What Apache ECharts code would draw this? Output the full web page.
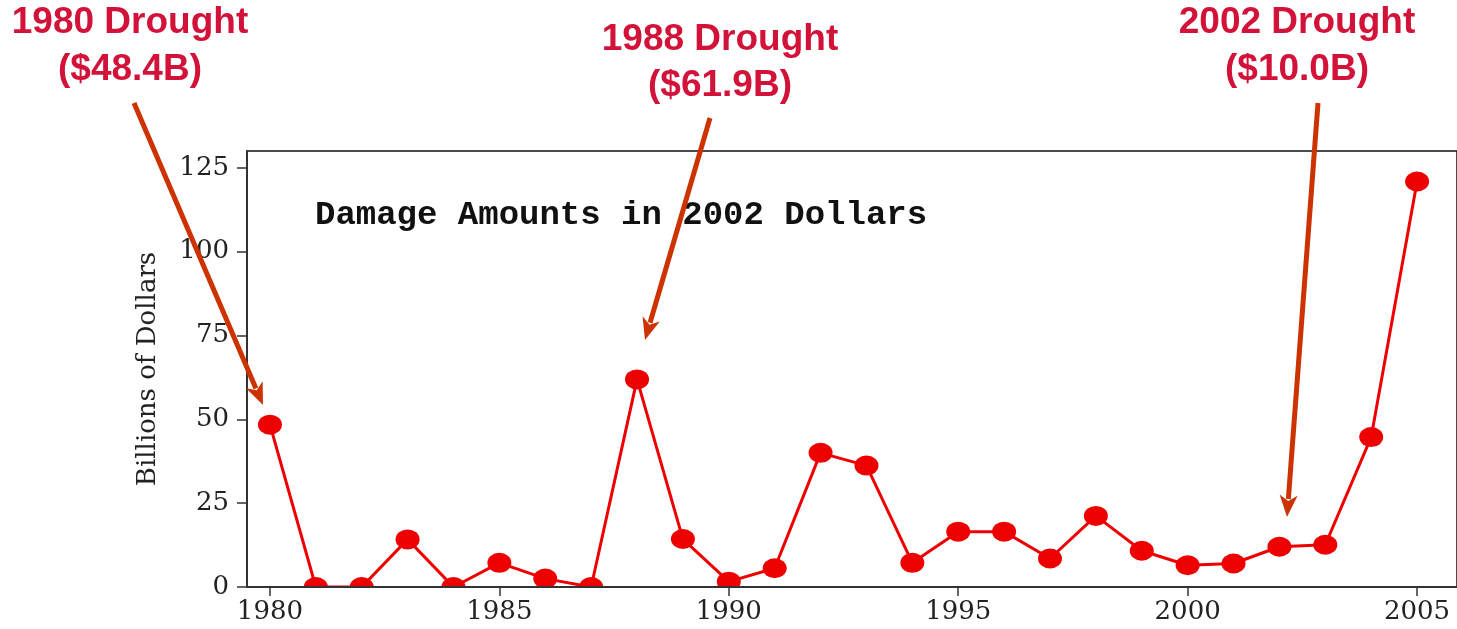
<!DOCTYPE html>
<html>
<head>
<meta charset="utf-8">
<style>
  html, body { margin: 0; padding: 0; background: #fff; }
  #chart { width: 1457px; height: 629px; }
</style>
<script src="https://cdn.jsdelivr.net/npm/echarts@6/dist/echarts.min.js"></script>
</head>
<body>
<div id="chart"></div>
<script>
const years = [1980, 1981, 1982, 1983, 1984, 1985, 1986, 1987, 1988, 1989, 1990, 1991, 1992,
    1993, 1994, 1995, 1996, 1997, 1998, 1999, 2000, 2001, 2002, 2003, 2004, 2005];
const damage = [48.4, 0, 0, 14.2, 0, 7.2, 2.5, 0, 61.9, 14.3, 1.6, 5.6, 40.0,
    36.2, 7.2, 16.5, 16.5, 8.5, 21.2, 10.8, 6.5, 7.0, 12.0, 12.6, 44.7, 120.9];
const xTicks = [1980, 1985, 1990, 1995, 2000, 2005];
const yTicks = [0, 25, 50, 75, 100, 125];
const notes = [
    { line1: '1980 Drought', line2: '($48.4B)', cx: 130, y1: 23, y2: 70, from: [134, 103], to: [263, 405] },
    { line1: '1988 Drought', line2: '($61.9B)', cx: 720, y1: 40, y2: 86, from: [710, 118], to: [645, 340] },
    { line1: '2002 Drought', line2: '($10.0B)', cx: 1297, y1: 23, y2: 70, from: [1318, 103], to: [1287, 517] }
];

const chart = echarts.init(document.getElementById('chart'));

const serif = 'DejaVu Serif';
const annRed = '#d3123a';
const arrowColor = '#cc3300';

function arrow(from, to) {
    const dx = to[0] - from[0];
    const dy = to[1] - from[1];
    const len = Math.sqrt(dx * dx + dy * dy);
    const ux = dx / len, uy = dy / len;
    const headLen = 22, headW = 9;
    const bx = to[0] - ux * headLen, by = to[1] - uy * headLen;
    const px = -uy * headW, py = ux * headW;
    return [
        {
            type: 'line', z: 20,
            shape: { x1: from[0], y1: from[1], x2: bx + ux * 4, y2: by + uy * 4 },
            style: { stroke: arrowColor, lineWidth: 5 }
        },
        {
            type: 'polygon', z: 20,
            shape: { points: [[to[0], to[1]], [bx + px, by + py], [bx + ux * 6, by + uy * 6], [bx - px, by - py]] },
            style: { fill: arrowColor }
        }
    ];
}

const graphics = [
    // hides the lower half of the markers that sit on the x axis
    { type: 'rect', z: 5, shape: { x: 0, y: 588, width: 1457, height: 41 }, style: { fill: '#fff' } }
];
notes.forEach(n => {
    graphics.push({
        type: 'text', z: 20, x: n.cx, y: n.y1,
        style: { text: n.line1, fill: annRed, font: 'bold 37px "Liberation Sans"', align: 'center', verticalAlign: 'middle' }
    });
    graphics.push({
        type: 'text', z: 20, x: n.cx, y: n.y2,
        style: { text: n.line2, fill: annRed, font: 'bold 37px "Liberation Sans"', align: 'center', verticalAlign: 'middle' }
    });
    graphics.push(...arrow(n.from, n.to));
});

const option = {
    animation: false,
    backgroundColor: '#fff',
    title: {
        text: 'Damage Amounts in 2002 Dollars',
        left: 310,
        top: 193,
        textStyle: { fontFamily: 'Liberation Mono', fontWeight: 'bold', fontSize: 34, color: '#111' }
    },
    grid: {
        left: 247, top: 151, right: -3, bottom: 42,
        show: true, borderColor: '#111', borderWidth: 1.5, backgroundColor: 'transparent'
    },
    xAxis: {
        type: 'value',
        min: 1979.5,
        max: 2005.87,
        z: 10,
        splitLine: { show: false },
        axisLine: { lineStyle: { color: '#333', width: 2 } },
        axisTick: { length: 9, lineStyle: { color: '#333', width: 1.5 }, customValues: xTicks },
        axisLabel: {
            customValues: xTicks, margin: 12,
            formatter: v => String(v),
            fontFamily: serif, fontSize: 26, color: '#222'
        }
    },
    yAxis: {
        type: 'value',
        min: 0,
        max: 130,
        z: 10,
        name: 'Billions of Dollars',
        nameLocation: 'middle',
        nameGap: 86,
        nameTextStyle: { fontFamily: serif, fontSize: 26, color: '#222' },
        splitLine: { show: false },
        axisLine: { show: true, lineStyle: { color: '#333', width: 2 } },
        axisTick: { show: true, length: 10, lineStyle: { color: '#333', width: 1.5 }, customValues: yTicks },
        axisLabel: {
            customValues: yTicks, margin: 18,
            fontFamily: serif, fontSize: 26, color: '#222'
        }
    },
    series: [{
        type: 'line',
        z: 2,
        data: years.map((y, i) => [y, damage[i]]),
        symbol: 'circle',
        symbolSize: [24, 20],
        clip: false,
        lineStyle: { color: '#ee0000', width: 3 },
        itemStyle: { color: '#ee0000' }
    }],
    graphic: graphics
};

chart.setOption(option);
</script>
</body>
</html>
